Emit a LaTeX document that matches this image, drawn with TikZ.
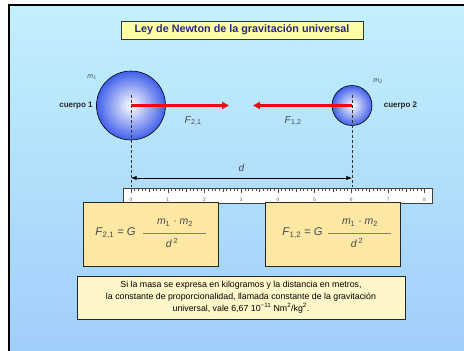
\documentclass[tikz,border=0pt]{standalone}
\usepackage{fontspec}
\setmainfont{Liberation Sans}
\usetikzlibrary{arrows.meta,positioning}
\definecolor{bgtop}{RGB}{194,240,253}
\definecolor{bgbot}{RGB}{160,206,250}
\definecolor{titlefill}{RGB}{255,255,165}
\definecolor{titleink}{RGB}{40,40,130}
\definecolor{formfill}{RGB}{252,232,162}
\definecolor{notefill}{RGB}{255,247,202}
\definecolor{ballblue}{RGB}{65,95,235}
\definecolor{forcered}{RGB}{232,12,12}
\definecolor{inkgray}{RGB}{70,70,82}

\begin{document}
\begin{tikzpicture}[x=1pt,y=-1pt,>=Latex,
  body/.style={circle,draw=black,semithick,inner color=white,outer color=ballblue,inner sep=0pt},
  force/.style={forcered,line width=2.4pt,-{Triangle[length=7pt,width=7pt]}},
  guide/.style={densely dashed,thin,black!80},
  lbl/.style={font=\fontsize{8}{9.6}\selectfont\bfseries,text=black!85},
  mass/.style={font=\fontsize{7}{8}\selectfont\itshape,text=inkgray},
  forcelbl/.style={font=\fontsize{10}{12}\selectfont,text=inkgray},
  titlebox/.style={draw=black!80,fill=titlefill,text=titleink,font=\fontsize{10.8}{13}\selectfont\bfseries,minimum width=242pt,minimum height=18pt},
  formbox/.style={draw=black!85,thick,fill=formfill,minimum width=135pt,minimum height=64pt},
  formtxt/.style={font=\fontsize{10.5}{12.6}\selectfont,text=inkgray},
  fracline/.style={inkgray!70,semithick},
  notebox/.style={draw=black!85,thick,fill=notefill,align=center,minimum width=328pt,minimum height=43pt,inner sep=2pt,font=\fontsize{8.8}{11.8}\selectfont},
  ruletick/.style={black!70,thin},
  rulenum/.style={font=\fontsize{5}{6}\selectfont,text=black!60}]
\useasboundingbox (0,0) rectangle (464,351);
\fill[top color=bgtop,bottom color=bgbot] (9,5) rectangle (464,351);
\draw[line width=1.5pt] (9,351) -- (9,5) -- (464,5);

\node[titlebox] (title) at (242,30) {Ley de Newton de la gravitación universal};

\node[body,minimum size=69pt] (body1) at (131,105.5) {};
\node[body,minimum size=40pt] (body2) at (352,105.5) {};
\node[lbl,left=0pt of body1] (cuerpo1) {cuerpo 1};
\node[lbl,right=8pt of body2] (cuerpo2) {cuerpo 2};
\node[mass] (m1) at (92,77) {m\textsubscript{1}};
\node[mass] (m2) at (378,81) {m\textsubscript{2}};

\coordinate (top1) at (131,95); \coordinate (foot1) at (131,187);
\coordinate (top2) at (352,95); \coordinate (foot2) at (352,187);
\draw[guide] (top1) -- (foot1); \draw[guide] (top2) -- (foot2);

\coordinate (f21end) at (229,105.5); \coordinate (f12end) at (253,105.5);
\draw[force] (body1.center) -- (f21end);
\draw[force] (body2.center) -- (f12end);
\node[forcelbl] (F21) at (193,121) {\textit{F}\textsubscript{2,1}};
\node[forcelbl] (F12) at (293,121) {\textit{F}\textsubscript{1,2}};

\coordinate (d1) at (131,178); \coordinate (d2) at (352,178);
\draw[<->,semithick] (d1) -- node[forcelbl,above=3pt] (dlab) {\textit{d}} (d2);

\draw[black!75,fill=white] (123,188) rectangle (432,203);
\foreach \i in {0,...,80}{
  \pgfmathsetmacro\len{ifthenelse(mod(\i,10)==0,5,ifthenelse(mod(\i,5)==0,4,2.5))}
  \draw[ruletick] ({131+\i*3.67},188) -- ++(0,\len);}
\foreach \n in {0,...,8} \node[rulenum] at ({131+\n*36.7},199.5) {\n};

\node[formbox] (box1) at (150.5,234) {};
\node[formbox] (box2) at (332.5,234) {};
\node[formtxt,font=\fontsize{11.2}{13}\selectfont] (lhs1) at (115.5,233) {\textit{F}\textsubscript{2,1} = \textit{G}};
\node[formtxt] (num1) at (175,222.5) {\textit{m}\textsubscript{1} · \textit{m}\textsubscript{2}};
\node[formtxt] (den1) at (172,242.5) {\textit{d}\,\textsuperscript{2}};
\draw[fracline] (143,233) -- (206,233);
\node[formtxt,font=\fontsize{11.2}{13}\selectfont] (lhs2) at (302.5,233) {\textit{F}\textsubscript{1,2} = \textit{G}};
\node[formtxt] (num2) at (360,222.5) {\textit{m}\textsubscript{1} · \textit{m}\textsubscript{2}};
\node[formtxt] (den2) at (357,242.5) {\textit{d}\,\textsuperscript{2}};
\draw[fracline] (328,233) -- (391,233);

\node[notebox] (note) at (241,297.5) {Si la masa se expresa en kilogramos y la distancia en metros,\\
  la constante de proporcionalidad, llamada constante de la gravitación\\
  universal, vale 6,67 10\textsuperscript{−11} Nm\textsuperscript{2}/kg\textsuperscript{2}.};
\end{tikzpicture}
\end{document}
